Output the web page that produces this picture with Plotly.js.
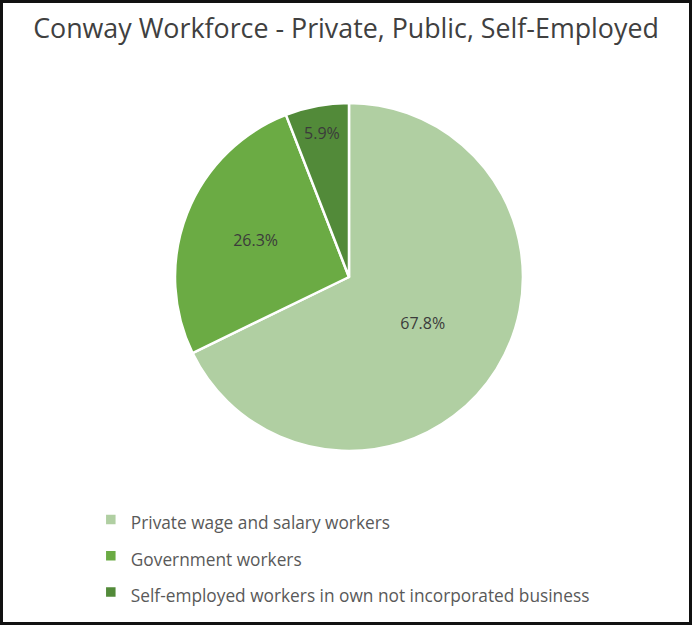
<!DOCTYPE html>
<html>
<head>
<meta charset="utf-8">
<script src="https://cdn.plot.ly/plotly-3.0.1.min.js"></script>
<style>
html,body{margin:0;padding:0;background:#fff;}
#frame{width:692px;height:625px;box-sizing:border-box;border:3px solid #111;background:#fff;}
#chart{width:686px;height:619px;}
</style>
</head>
<body>
<div id="frame"><div id="chart"></div></div>
<script>
const categories = ["Private wage and salary workers", "Government workers", "Self-employed workers in own not incorporated business"];
const shares = [67.8, 26.3, 5.9];
const sliceColors = ["#b0cfa2", "#6bab44", "#528a39"];
const chartTitle = "Conway Workforce - Private, Public, Self-Employed";

const trace = {
  type: "pie",
  labels: categories.map(c => '<span style="font-size:17.3px">' + c + '</span>'),
  values: shares,
  sort: false,
  direction: "clockwise",
  rotation: 0,
  marker: {colors: sliceColors, line: {color: "#ffffff", width: 2.5}},
  textinfo: "percent",
  texttemplate: "%{value:.1f}%",
  textposition: "inside",
  insidetextorientation: "horizontal",
  textfont: {family: "Open Sans, sans-serif", size: 16, color: "#3b3b3b"},
  domain: {x: [0.2507, 0.758], y: [0.2763, 0.8384]},
  hoverinfo: "label+percent"
};

const layout = {
  width: 686, height: 619,
  margin: {l: 0, r: 0, t: 0, b: 0},
  paper_bgcolor: "#ffffff",
  title: {text: chartTitle, x: 0.5, xanchor: "center", y: 0.958, yanchor: "middle",
          font: {family: "Open Sans, sans-serif", size: 26.8, color: "#404040"}},
  showlegend: true,
  legend: {
    orientation: "v", x: 0.128, xanchor: "left", y: 0.203, yanchor: "top",
    font: {family: "Open Sans, sans-serif", size: 25.6, color: "#595959"},
    itemwidth: 30, traceorder: "normal"
  }
};

Plotly.newPlot("chart", [trace], layout, {displayModeBar: false, staticPlot: true});
</script>
</body>
</html>
